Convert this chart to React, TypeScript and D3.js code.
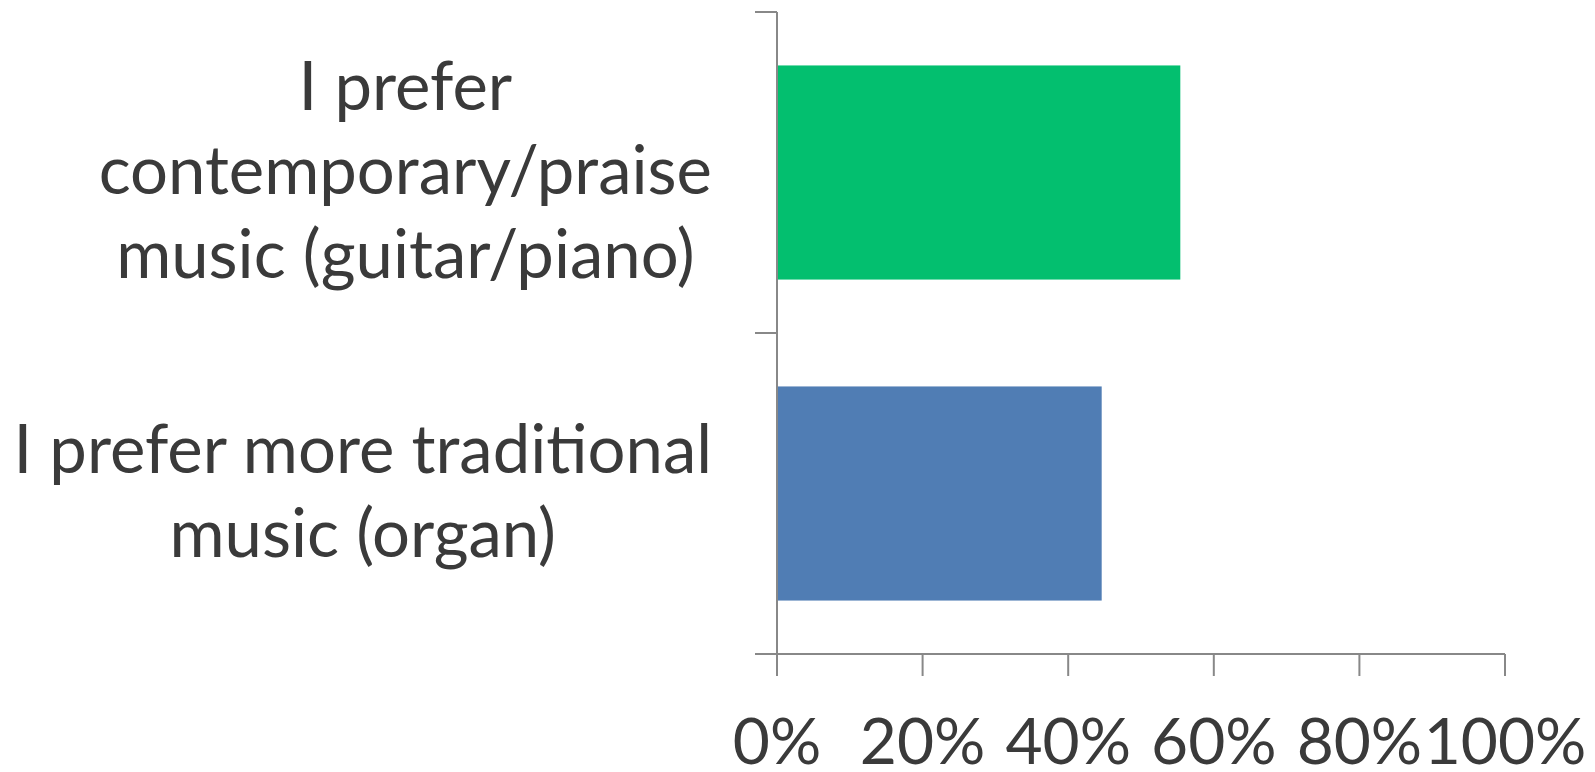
import { useEffect, useRef } from 'react';
import * as d3 from 'd3';

const categories: string[][] = [
  ['I prefer', 'contemporary/praise', 'music (guitar/piano)'],
  ['I prefer more traditional', 'music (organ)'],
];
const values = [55.4, 44.6];
const barColors = ['#03bf6f', '#507db4'];
const xTicks = [0, 20, 40, 60, 80, 100];

const WIDTH = 1595;
const HEIGHT = 772;
const FONT = 'Lato, "Open Sans", sans-serif';

export default function App() {
  const svgRef = useRef<SVGSVGElement>(null);

  useEffect(() => {
    if (!svgRef.current) return;
    const svg = d3.select(svgRef.current);
    svg.selectAll('*').remove();

    const left = 777;
    const right = 1505;
    const top = 12;
    const bottom = 654;
    const axisColor = '#888888';
    const textColor = '#3a3a3a';
    const tickFontSize = 64;
    const catFontSize = 67;
    const lineHeight = 84;

    const x = d3.scaleLinear().domain([0, 100]).range([left, right]);
    const y = d3.scaleBand<number>()
      .domain(categories.map((_, i) => i))
      .range([top, bottom])
      .paddingInner(0.333)
      .paddingOuter(0.1665);
    const band = d3.scaleBand<number>()
      .domain(categories.map((_, i) => i))
      .range([top, bottom]);

    // Bars
    svg.selectAll('.bar')
      .data(values)
      .join('rect')
      .attr('class', 'bar')
      .attr('x', x(0))
      .attr('y', (_, i) => y(i) || 0)
      .attr('width', (d) => x(d) - x(0))
      .attr('height', y.bandwidth())
      .attr('fill', (_, i) => barColors[i]);

    // Y axis line + ticks
    svg.append('line')
      .attr('x1', left).attr('x2', left)
      .attr('y1', top).attr('y2', bottom)
      .attr('stroke', axisColor).attr('stroke-width', 2);
    const yTickPos = [top, ...categories.map((_, i) => (band(i) || 0) + band.bandwidth())];
    svg.selectAll('.ytick')
      .data(yTickPos)
      .join('line')
      .attr('class', 'ytick')
      .attr('x1', left - 22).attr('x2', left)
      .attr('y1', (d) => d).attr('y2', (d) => d)
      .attr('stroke', axisColor).attr('stroke-width', 2);

    // X axis line + ticks
    svg.append('line')
      .attr('x1', left).attr('x2', right)
      .attr('y1', bottom).attr('y2', bottom)
      .attr('stroke', axisColor).attr('stroke-width', 2);
    svg.selectAll('.xtick')
      .data(xTicks)
      .join('line')
      .attr('class', 'xtick')
      .attr('x1', (d) => x(d)).attr('x2', (d) => x(d))
      .attr('y1', bottom).attr('y2', bottom + 22)
      .attr('stroke', axisColor).attr('stroke-width', 2);

    svg.selectAll('.xlabel')
      .data(xTicks)
      .join('text')
      .attr('class', 'xlabel')
      .attr('x', (d) => x(d))
      .attr('y', 764)
      .attr('text-anchor', 'middle')
      .style('font-family', FONT)
      .style('font-size', `${tickFontSize}px`)
      .style('fill', textColor)
      .text((d) => `${d}%`);

    // Category labels: wrapped lines centred in a block that ends near the axis
    const labelRight = 712;
    categories.forEach((lines, i) => {
      const g = svg.append('g');
      const texts = lines.map((l) =>
        g.append('text')
          .style('font-family', FONT)
          .style('font-size', `${catFontSize}px`)
          .style('fill', textColor)
          .attr('text-anchor', 'middle')
          .text(l)
      );
      const maxW = d3.max(texts, (t) => (t.node() as SVGTextElement).getComputedTextLength()) || 0;
      const cx = labelRight - maxW / 2;
      const cy = (band(i) || 0) + band.bandwidth() / 2;
      texts.forEach((t, j) => {
        const lineCenter = cy + (j - (lines.length - 1) / 2) * lineHeight;
        t.attr('x', cx).attr('y', lineCenter + catFontSize * 0.32);
      });
    });
  }, []);

  return (
    <div style={{ position: 'absolute', left: 0, top: 0 }}>
      <svg ref={svgRef} width={WIDTH} height={HEIGHT} style={{ display: 'block', background: '#fff' }} />
    </div>
  );
}
